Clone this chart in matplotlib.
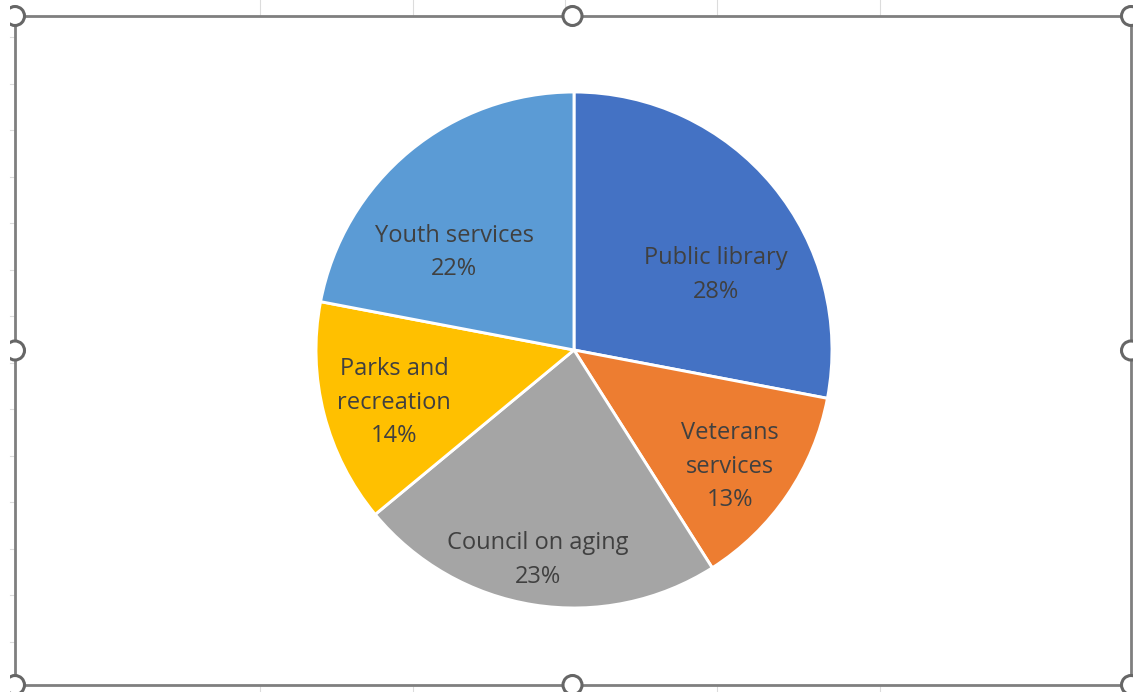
import matplotlib
matplotlib.use("Agg")
import matplotlib.pyplot as plt
from matplotlib.patches import Circle, Rectangle

# Budget share by department
categories = ["Public library", "Veterans\nservices", "Council on aging",
              "Parks and\nrecreation", "Youth services"]
shares = [28, 13, 23, 14, 22]
colors = ["#4472C4", "#ED7D31", "#A5A5A5", "#FFC000", "#5B9BD5"]

# label anchor positions inside the pie (unit-radius coordinates)
label_pos = [(0.550, 0.292), (0.605, -0.452), (-0.140, -0.814),
             (-0.698, -0.204), (-0.465, 0.378)]

W, H = 1133, 692
fig = plt.figure(figsize=(W / 100, H / 100), dpi=100)
fig.patch.set_facecolor("white")

# background layer in pixel coordinates: sheet gridlines, chart frame, handles
bg = fig.add_axes([0, 0, 1, 1])
bg.set_xlim(0, W)
bg.set_ylim(H, 0)
bg.axis("off")

grid_c = "#dcdcdc"
for x in [260, 413, 565, 717, 880]:
    bg.plot([x, x], [0, 16], color=grid_c, lw=0.8, zorder=1)
    bg.plot([x, x], [686, H], color=grid_c, lw=0.8, zorder=1)
y = 37.0
while y < 684:
    bg.plot([10, 14], [y, y], color=grid_c, lw=0.8, zorder=1)
    y += 46.5

left, top, right, bottom = 15, 16, 1131, 685
bg.add_patch(Rectangle((left, top), right - left, bottom - top, fill=False,
                       edgecolor="#7f7f7f", lw=2.0, zorder=2))

clip = Rectangle((10, 0), W, H, transform=bg.transData, visible=False)
bg.add_patch(clip)
mx = (left + right) / 2 - 0.5
my = (top + bottom) / 2
for hx, hy in [(left, top), (mx, top), (right, top), (left, my), (right, my),
               (left, bottom), (mx, bottom), (right, bottom)]:
    c = Circle((hx, hy), 9.5, facecolor="white", edgecolor="#666666",
               lw=2.2, zorder=3)
    bg.add_patch(c)
    c.set_clip_path(clip)

# pie
cx, cy, r = 574, 350, 258
ax = fig.add_axes([(cx - r) / W, (H - cy - r) / H, 2 * r / W, 2 * r / H])
wedges, _ = ax.pie(shares, colors=colors, startangle=90, counterclock=False,
                   radius=1.0,
                   wedgeprops=dict(edgecolor="white", linewidth=2.1))
ax.set_xlim(-1, 1)
ax.set_ylim(-1, 1)
ax.set_aspect("equal")
ax.axis("off")

for name, val, (lx, ly) in zip(categories, shares, label_pos):
    ax.text(lx, ly, f"{name}\n{val}%", ha="center", va="center",
            fontsize=17, family=["Open Sans", "DejaVu Sans"], color="#404040",
            linespacing=1.54)

fig.savefig("out.png", dpi=100, facecolor="white")
